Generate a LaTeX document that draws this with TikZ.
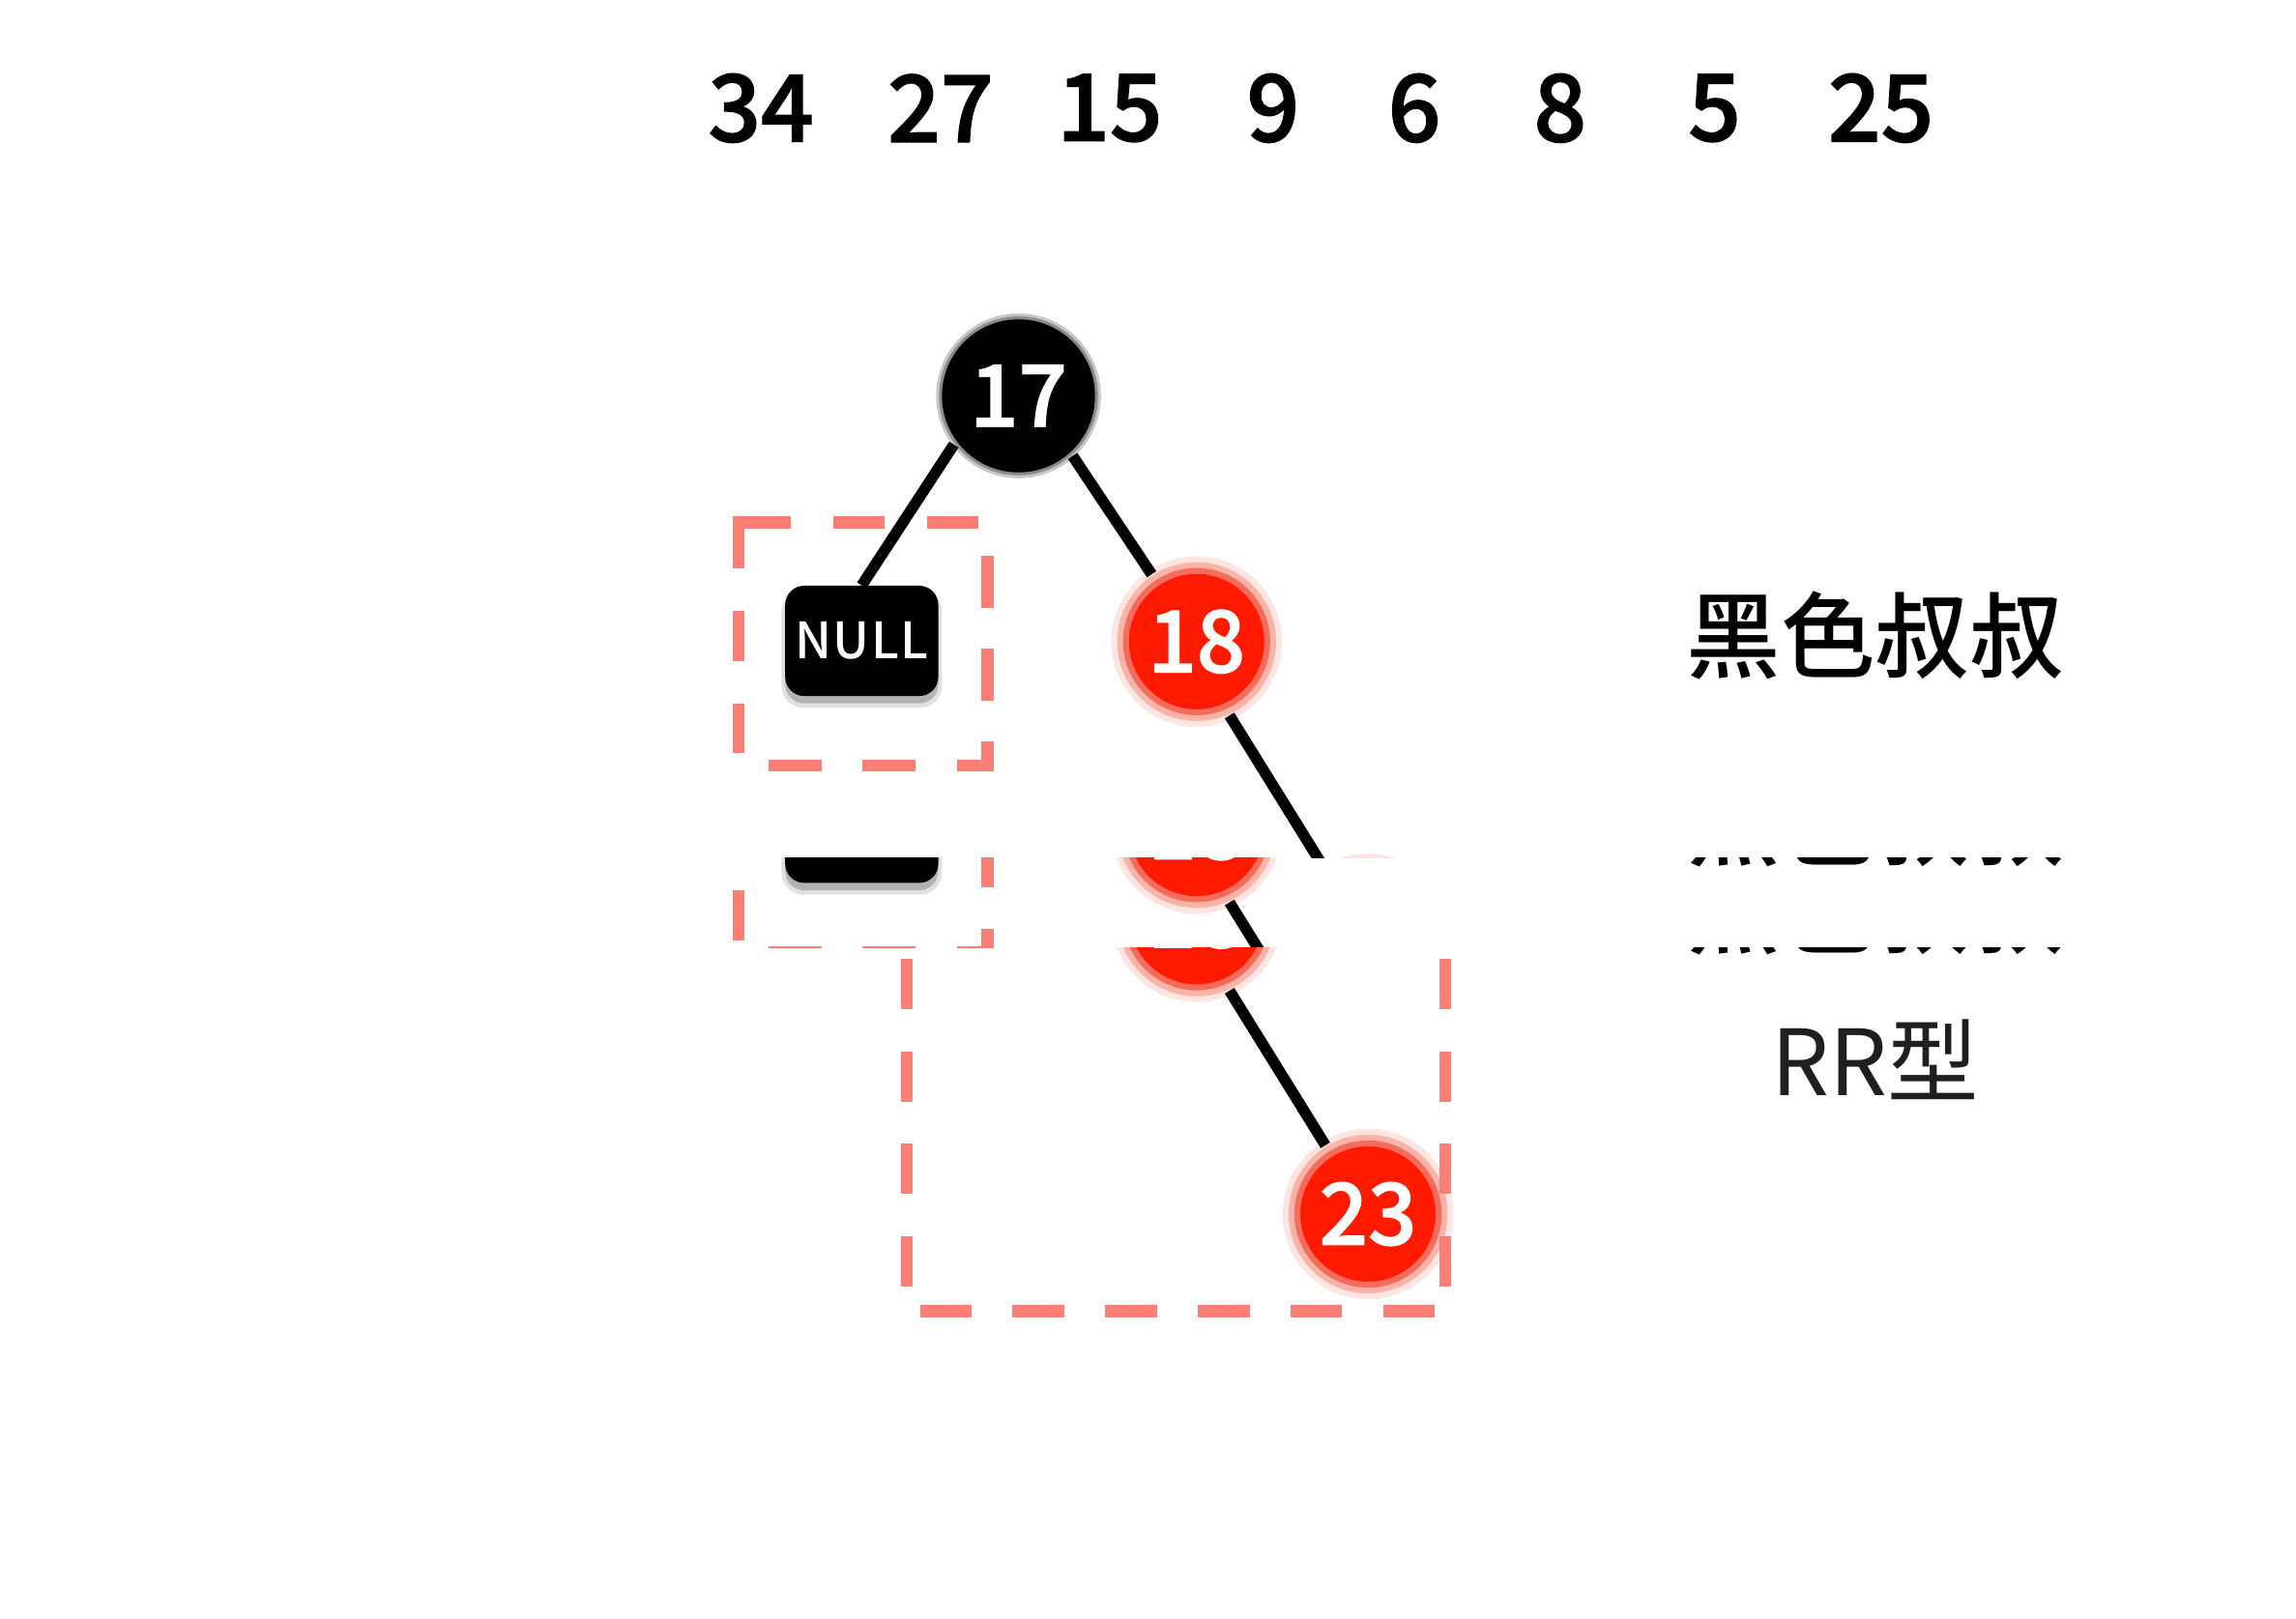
\documentclass[tikz,border=0pt]{standalone}
\usepackage{fontspec}
\newfontfamily\cjk{Noto Sans CJK SC}
\newfontfamily\cjkmed{Noto Sans CJK SC Medium}
\newfontfamily\numfont{Noto Sans CJK SC Medium}[FakeBold=1.6]
\definecolor{redfill}{RGB}{255,26,0}
\definecolor{redring}{RGB}{244,108,92}
\definecolor{glowA}{RGB}{249,180,170}
\definecolor{glowB}{RGB}{253,230,226}
\definecolor{salmon}{RGB}{250,128,118}
\tikzset{
  topnum/.style={inner sep=0pt, font=\numfont\fontsize{63}{63}\selectfont},
  dbox/.style={draw=salmon, line width=8pt},
  edge/.style={draw=black, line width=7.5pt},
  blk/.style={circle, minimum size=104pt, inner sep=0pt, outer sep=3pt, fill=black,
    text=white, font=\numfont\fontsize{58}{58}\selectfont,
    preaction={draw=black!22, line width=8pt},
    preaction={draw=black!45, line width=4pt}},
  redn/.style={circle, minimum size=96pt, inner sep=0pt, outer sep=7pt, fill=redfill,
    draw=redring, line width=4pt, text=white, font=\numfont\fontsize{58}{58}\selectfont,
    preaction={draw=glowB, line width=20pt},
    preaction={draw=glowA, line width=12pt}},
  nullbox/.style={rectangle, rounded corners=13pt, minimum width=104pt, minimum height=75pt,
    inner sep=0pt, fill=black, text=white, font=\cjkmed\fontsize{34}{34}\selectfont},
  uncle/.style={inner sep=0pt, font=\cjkmed\fontsize{64}{64}\selectfont},
  rrtext/.style={inner sep=0pt, text=black!88, font=\cjk\fontsize{62}{62}\selectfont}
}
% one frame of the tree (used whole, and once more as a shifted strip)
\newcommand\drawframeA[1]{%
  \draw[dbox, dash pattern=on 39pt off 29pt on 35pt off 29pt on 35pt off 29pt] (498,355) -- (671,355);
  \draw[dbox, dash pattern=on 35pt off 28pt, dash phase=40pt] (671,355) -- (671,520);
  \draw[dbox, dash pattern=on 36pt off 28pt, dash phase=44pt] (502,520) -- (675,520);
  \draw[dbox, dash pattern=on 34pt off 29pt, dash phase=3pt] (502,355) -- (502,520);
  \fill[black!12, rounded corners=15pt] (531,401) rectangle (640,481);
  \fill[black!30, rounded corners=13pt] (533.5,402) rectangle (637.5,478);
  \node[nullbox] (null#1) at (585.5,435.5) {N\kern1ptU\kern1ptL\kern1ptL};
  \node[blk] (n17#1) at (692,269) {17};
  \node[redn] (n18#1) at (813,436) {18};
  \node[redn] (n23#1) at (929.5,638) {23};
  \draw[edge] (n17#1.217) -- (null#1.north);
  \draw[edge] (n17#1.312) -- (n18#1);
  \draw[edge] (n18#1.294) -- (n23#1);
  \node[uncle] (uncle#1) at (1274,432) {黑色叔叔};
}
\begin{document}
\begin{tikzpicture}[x=1pt,y=-1pt]
\useasboundingbox (0,0) rectangle (1560,1100);
\fill[white] (0,0) rectangle (1560,1100);
% sequence of keys
\foreach \t/\x in {34/517, 27/639, 15/754, 9/865, 6/961, 8/1060, 5/1165, 25/1278}
  \node[topnum] (t\t) at (\x,73.5) {\t};
% upper frame
\begin{scope}
  \clip (0,0) rectangle (1560,583);
  \drawframeA{a}
\end{scope}
% glitched strip: the same frame shifted down
\begin{scope}
  \clip (0,583) rectangle (1560,644);
  \begin{scope}[shift={(0,127)}]
    \drawframeA{s}
  \end{scope}
\end{scope}
% lower frame
\begin{scope}
  \clip (0,644) rectangle (1560,1100);
  \node[redn] (n18b) at (813,623) {18};
  \node[redn] (n23b) at (929.5,825) {23};
  \draw[edge] (n18b.294) -- (n23b);
  \draw[dbox, dash pattern=on 34pt off 28.7pt] (616,874) -- (616,560);
  \draw[dbox, dash pattern=on 34pt off 28.7pt] (982,874) -- (982,560);
  \draw[dbox, dash pattern=on 35pt off 28pt] (625,891) -- (975,891);
  \node[uncle] (uncleb) at (1274,619) {黑色叔叔};
  \node[rrtext] (rr) at (1274,720) {RR型};
\end{scope}
\end{tikzpicture}
\end{document}
